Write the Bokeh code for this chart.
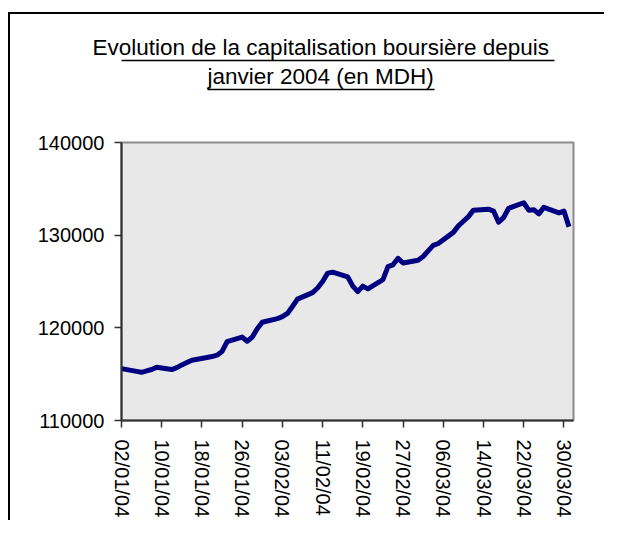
import pandas as pd
from bokeh.plotting import figure
from bokeh.layouts import column
from bokeh.models import (Range1d, FixedTicker, DatetimeTickFormatter, LinearAxis,
                          NumeralTickFormatter, ColumnDataSource, Title, CustomJSTickFormatter)
from bokeh.embed import file_html
from bokeh.resources import INLINE

# ---------------- data ----------------
title_line1 = "Evolution de la capitalisation boursière depuis"
title_line2 = "janvier 2004 (en MDH)"

dates = [
    "02/01/04", "05/01/04", "06/01/04", "07/01/04", "08/01/04", "09/01/04",
    "12/01/04", "13/01/04", "14/01/04", "15/01/04", "16/01/04",
    "19/01/04", "20/01/04", "21/01/04", "22/01/04", "23/01/04",
    "26/01/04", "27/01/04", "28/01/04", "29/01/04", "30/01/04",
    "02/02/04", "03/02/04", "04/02/04", "05/02/04", "06/02/04",
    "09/02/04", "10/02/04", "11/02/04", "12/02/04", "13/02/04",
    "16/02/04", "17/02/04", "18/02/04", "19/02/04", "20/02/04",
    "23/02/04", "24/02/04", "25/02/04", "26/02/04", "27/02/04",
    "01/03/04", "02/03/04", "03/03/04", "04/03/04", "05/03/04",
    "08/03/04", "09/03/04", "10/03/04", "11/03/04", "12/03/04",
    "15/03/04", "16/03/04", "17/03/04", "18/03/04", "19/03/04",
    "22/03/04", "23/03/04", "24/03/04", "25/03/04", "26/03/04",
    "29/03/04", "30/03/04", "31/03/04",
]
capitalisation = [
    115600, 115300, 115200, 115350, 115500, 115750,
    115500, 115700, 116000, 116250, 116500,
    116800, 116900, 117050, 117450, 118500,
    119000, 118550, 119000, 119900, 120600,
    121000, 121200, 121550, 122300, 123100,
    123800, 124300, 125000, 125900, 126000,
    125500, 124500, 123900, 124500, 124200,
    125200, 126600, 126800, 127500, 127000,
    127300, 127700, 128300, 128900, 129100,
    130300, 131000, 131500, 132000, 132700,
    132800, 132600, 131400, 131900, 132900,
    133500, 132700, 132750, 132300, 133000,
    132400, 132600, 130900,
]
x_tick_labels = ["02/01/04", "10/01/04", "18/01/04", "26/01/04", "03/02/04", "11/02/04",
                 "19/02/04", "27/02/04", "06/03/04", "14/03/04", "22/03/04", "30/03/04"]
y_ticks = [110000, 120000, 130000, 140000]

# ---------------- figure ----------------
x = pd.to_datetime(dates, format="%d/%m/%y")
src = ColumnDataSource(dict(x=x, y=capitalisation))
tick_dates = pd.to_datetime(x_tick_labels, format="%d/%m/%y")
tick_ms = [int(t.value // 10**6) for t in tick_dates]

x_start = x[0]
x_end = x[0] + pd.Timedelta(days=89.9)

FRAME_W = 452
p = figure(width=594, height=506, output_backend="svg", toolbar_location=None,
           x_axis_type="datetime",
           x_range=Range1d(x_start, x_end), y_range=Range1d(110000, 140000),
           min_border_left=111, min_border_right=31, min_border_top=128, min_border_bottom=100)

p.background_fill_color = "#e8e8e8"
p.border_fill_color = "white"
p.outline_line_color = "#8c8c8c"
p.outline_line_width = 2
p.xgrid.visible = False
p.ygrid.visible = False

p.line("x", "y", source=src, line_color="#000080", line_width=5, line_join="round")

FONT = "Liberation Sans"
fmt = "%d/%m/%y"
p.xaxis.ticker = FixedTicker(ticks=tick_ms)
p.xaxis.formatter = DatetimeTickFormatter(microseconds=fmt, milliseconds=fmt, seconds=fmt,
                                          minsec=fmt, minutes=fmt, hourmin=fmt, hours=fmt,
                                          days=fmt, months=fmt, years=fmt)
p.xaxis.major_label_orientation = "vertical"
p.yaxis.ticker = FixedTicker(ticks=y_ticks)
p.yaxis.formatter = NumeralTickFormatter(format="0")

for ax in (p.xaxis[0], p.yaxis[0]):
    ax.axis_line_color = "#303030"
    ax.axis_line_width = 2
    ax.major_tick_line_color = "#303030"
    ax.major_tick_line_width = 1.5
    ax.major_tick_out = 7
    ax.major_tick_in = 0
    ax.minor_tick_line_color = None
    ax.major_label_text_font = FONT
    ax.major_label_text_font_size = "20px"
    ax.major_label_text_color = "black"
p.yaxis.major_label_standoff = 10
p.xaxis.major_label_standoff = 12

# pixel offset (relative to the frame's left edge) -> x-axis value, for title decorations
x0_ms = x_start.value / 1e6
span_ms = (x_end - x_start).value / 1e6
def px_to_x(px):
    return x0_ms + px / FRAME_W * span_ms

def deco_axis(line_color=None, bounds="auto"):
    return LinearAxis(ticker=FixedTicker(ticks=[]), major_tick_out=0, major_tick_in=0,
                      major_tick_line_color=None, minor_tick_line_color=None,
                      major_label_text_font_size="0px", major_label_standoff=0,
                      axis_line_color=line_color, axis_line_width=1.5, bounds=bounds)

# empty spacer between the plot frame and the title block
spacer = LinearAxis(ticker=FixedTicker(ticks=[px_to_x(FRAME_W / 2)]), major_tick_out=53,
                    major_tick_in=0, major_tick_line_color=None, minor_tick_line_color=None,
                    formatter=CustomJSTickFormatter(code="return ''"),
                    major_label_text_font_size="1px", major_label_standoff=0,
                    axis_line_color=None)

# stacked above the frame, nearest first
p.add_layout(spacer, "above")
p.add_layout(deco_axis(line_color="black", bounds=(px_to_x(207 - 121), px_to_x(434 - 121))), "above")
p.add_layout(Title(text=title_line2, align="left", offset=86, standoff=2,
                   text_font=FONT, text_font_size="22.5px", text_font_style="normal",
                   text_color="black"), "above")
p.add_layout(deco_axis(line_color="black", bounds=(px_to_x(92 - 121), px_to_x(554 - 121))), "above")
p.add_layout(Title(text=title_line1, align="left", offset=-29, standoff=2,
                   text_font=FONT, text_font_size="22.5px", text_font_style="normal",
                   text_color="black"), "above")

# outer chart frame: only its top and left edges fall inside the window
page = column(p, styles={"border-top": "2px solid black", "border-left": "2px solid black",
                         "margin-left": "8px", "margin-top": "12px"})

open("out.html", "w").write(file_html(page, INLINE))
